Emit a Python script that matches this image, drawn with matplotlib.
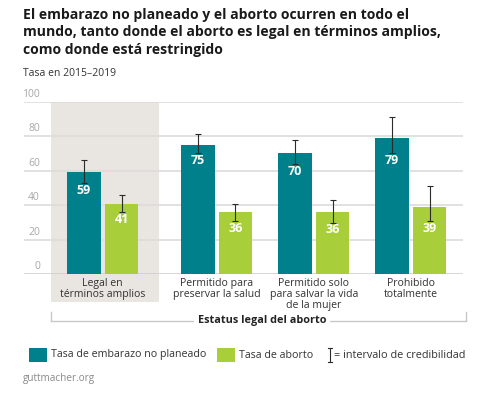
import matplotlib
matplotlib.use("Agg")
import matplotlib.pyplot as plt
from matplotlib.patches import Rectangle
from matplotlib.lines import Line2D

plt.rcParams['font.family'] = ['Open Sans', 'DejaVu Sans']

# ---- data ----
categories = ["Legal en\ntérminos amplios",
              "Permitido para\npreservar la salud",
              "Permitido solo\npara salvar la vida\nde la mujer",
              "Prohibido\ntotalmente"]
unplanned = [59, 75, 70, 79]
unplanned_lo = [53, 70, 64, 70]
unplanned_hi = [66, 81, 78, 91]
abortion = [41, 36, 36, 39]
abortion_lo = [36, 31, 30, 31]
abortion_hi = [46, 41, 43, 51]
yticks = [0, 20, 40, 60, 80, 100]

title = ("El embarazo no planeado y el aborto ocurren en todo el\n"
         "mundo, tanto donde el aborto es legal en términos amplios,\n"
         "como donde está restringido")
subtitle = "Tasa en 2015–2019"
group_title = "Estatus legal del aborto"
legend_labels = ["Tasa de embarazo no planeado", "Tasa de aborto",
                 "= intervalo de credibilidad"]
source = "guttmacher.org"

# ---- style / layout ----
TEAL = "#00808A"
GREEN = "#A8CE3A"
SHADE = "#E9E6E1"
GRID = "#DCDCDC"
DARK = "#2B2B2B"
W, H = 487, 396
group_x = [102.8, 216.7, 313.8, 410.8]   # layout units (px-like)
bar_w = 33.3
off = 18.8

def fx(px):
    return px / W

def fy(py):
    return 1 - py / H

fig = plt.figure(figsize=(W / 100, H / 100), dpi=100)
y0_px, y100_px = 274.3, 101.7
ax = fig.add_axes([fx(24), fy(y0_px), (463 - 24) / W, (y0_px - y100_px) / H])
ax.set_xlim(24, 463)
ax.set_ylim(0, 100)
ax.axis('off')

# shaded first group
shade_bottom = -(301.7 - y0_px) / (y0_px - y100_px)
ax.add_patch(Rectangle((50.7, shade_bottom), 108.6, 1 - shade_bottom,
                       transform=ax.get_xaxis_transform(), facecolor=SHADE,
                       edgecolor='none', clip_on=False, zorder=0))

# gridlines + tick labels
for t in yticks:
    ax.axhline(t, color=GRID if t else "#CFCFCF", lw=1.2, zorder=1)
    ax.annotate(str(t), xy=(40, t), xycoords='data', xytext=(0, 1.5),
                textcoords='offset points', ha='right', va='bottom',
                fontsize=7.5, color="#A8A8A8")

xs_t = [g - off for g in group_x]
xs_g = [g + off for g in group_x]
ax.bar(xs_t, unplanned, width=bar_w, color=TEAL, zorder=2)
ax.bar(xs_g, abortion, width=bar_w, color=GREEN, zorder=2)

err_t = [[v - lo for v, lo in zip(unplanned, unplanned_lo)],
         [hi - v for v, hi in zip(unplanned, unplanned_hi)]]
err_g = [[v - lo for v, lo in zip(abortion, abortion_lo)],
         [hi - v for v, hi in zip(abortion, abortion_hi)]]
ax.errorbar(xs_t, unplanned, yerr=err_t, fmt='none', ecolor=DARK,
            elinewidth=0.8, capsize=2.2, capthick=0.8, zorder=3)
ax.errorbar(xs_g, abortion, yerr=err_g, fmt='none', ecolor=DARK,
            elinewidth=0.8, capsize=2.2, capthick=0.8, zorder=3)

# value labels sit just below the lower end of each error bar
for x, v, lo in zip(xs_t, unplanned, unplanned_lo):
    ax.annotate(str(v), xy=(x, lo), xytext=(0, -5.2), textcoords='offset points',
                ha='center', va='center', color='white', fontsize=9,
                fontweight='bold', zorder=4)
for x, v, lo in zip(xs_g, abortion, abortion_lo):
    ax.annotate(str(v), xy=(x, lo), xytext=(0, -5.2), textcoords='offset points',
                ha='center', va='center', color='white', fontsize=9,
                fontweight='bold', zorder=4)

# category labels
for g, lab in zip(group_x, categories):
    ax.annotate(lab, xy=(g, 0), xytext=(0, -3), textcoords='offset points',
                ha='center', va='top', fontsize=7.6, color="#333333",
                linespacing=0.95)

# bracket for group title
bc = "#C8C8C8"
fig.add_artist(Line2D([fx(50.7), fx(465.7)], [fy(321), fy(321)], color=bc, lw=1))
fig.add_artist(Line2D([fx(50.7), fx(50.7)], [fy(312), fy(321)], color=bc, lw=1))
fig.add_artist(Line2D([fx(465.7), fx(465.7)], [fy(312), fy(321)], color=bc, lw=1))
fig.text(fx(262), fy(321), group_title, ha='center', va='center', fontsize=7.8,
         fontweight='bold', color="#222222",
         bbox=dict(facecolor='white', edgecolor='none', pad=2.5))

# title / subtitle
fig.text(fx(22.7), fy(7.5), title, ha='left', va='top', fontsize=10.1,
         fontweight='bold', color="#1A1A1A", linespacing=1.36)
fig.text(fx(22.7), fy(73), subtitle, ha='left', va='center', fontsize=7.5,
         color="#333333")

# legend
ly = 355
fig.add_artist(Rectangle((fx(29.3), fy(361.7)), (46.7 - 29.3) / W, 13.7 / H,
                         transform=fig.transFigure, facecolor=TEAL, edgecolor='none'))
fig.text(fx(50.7), fy(ly), legend_labels[0], ha='left', va='center', fontsize=7.7,
         color="#333333")
fig.add_artist(Rectangle((fx(217.3), fy(361.7)), (235 - 217.3) / W, 13.7 / H,
                         transform=fig.transFigure, facecolor=GREEN, edgecolor='none'))
fig.text(fx(239), fy(ly), legend_labels[1], ha='left', va='center', fontsize=7.7,
         color="#333333")
ex = 329.5
fig.add_artist(Line2D([fx(ex), fx(ex)], [fy(348), fy(362)], color=DARK, lw=0.8))
fig.add_artist(Line2D([fx(ex - 2), fx(ex + 2)], [fy(348), fy(348)], color=DARK, lw=0.8))
fig.add_artist(Line2D([fx(ex - 2), fx(ex + 2)], [fy(362), fy(362)], color=DARK, lw=0.8))
fig.text(fx(334.3), fy(ly), legend_labels[2], ha='left', va='center', fontsize=7.8,
         color="#333333")

fig.text(fx(22.7), fy(379), source, ha='left', va='center', fontsize=7.2,
         color="#8A8A8A")

fig.savefig("out.png", dpi=100, facecolor='white')
